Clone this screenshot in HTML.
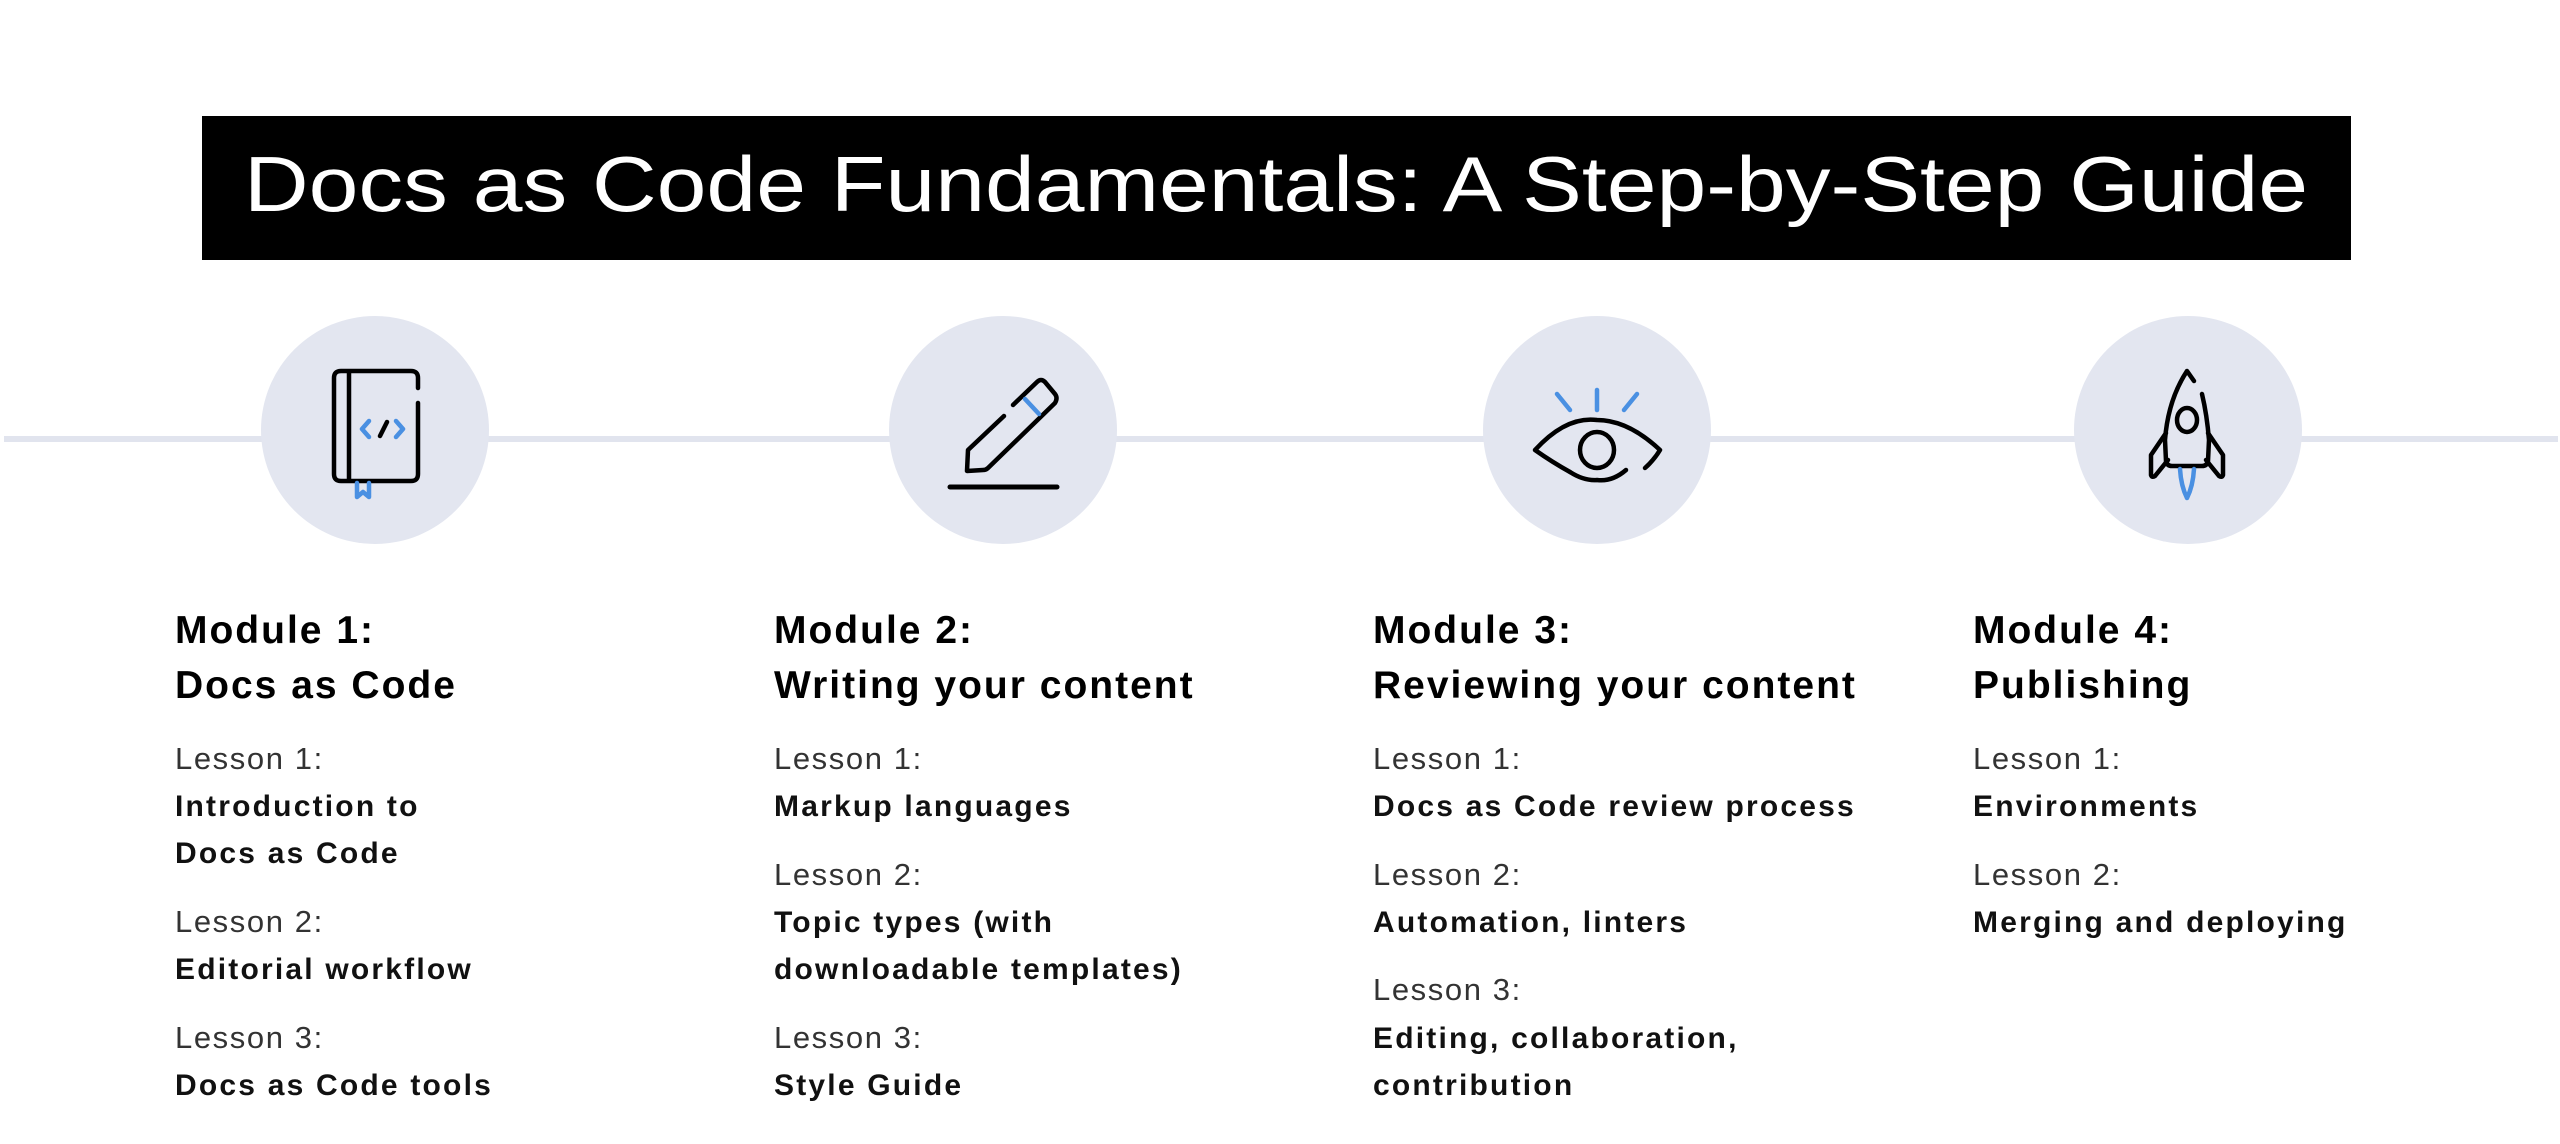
<!DOCTYPE html>
<html><head><meta charset="utf-8"><style>
html,body{margin:0;padding:0;background:#fff;}
svg{display:block;}
.h{font-family:"Liberation Sans",sans-serif;font-weight:bold;font-size:39px;fill:#000;letter-spacing:2px;}
.l{font-family:"Liberation Sans",sans-serif;font-size:31px;fill:#333;letter-spacing:1.6px;}
.b{font-family:"Liberation Sans",sans-serif;font-weight:bold;font-size:30px;fill:#111;letter-spacing:2.2px;}
</style></head><body>
<svg width="2560" height="1144" viewBox="0 0 2560 1144" xmlns="http://www.w3.org/2000/svg">
<rect width="2560" height="1144" fill="#fff"/>
<rect x="202" y="116" width="2149" height="144" fill="#000"/>
<text x="1276" y="211" text-anchor="middle" font-family="Liberation Sans, sans-serif" font-size="78" fill="#fff" textLength="2064" lengthAdjust="spacingAndGlyphs">Docs as Code Fundamentals: A Step-by-Step Guide</text>
<rect x="4" y="436" width="2554" height="6" fill="#e1e4ee"/>
<g fill="#e3e6f0">
<circle cx="375" cy="430" r="114"/>
<circle cx="1003" cy="430" r="114"/>
<circle cx="1597" cy="430" r="114"/>
<circle cx="2188" cy="430" r="114"/>
</g>
<g fill="none" stroke-linecap="round" stroke-linejoin="round" stroke-width="4.5">
<!-- book -->
<path d="M418 388 V378 Q418 371 411 371 H341 Q334 371 334 378 V474 Q334 481 341 481 H411 Q418 481 418 474 V403" stroke="#000"/>
<line x1="349" y1="372" x2="349" y2="480" stroke="#000"/>
<path d="M357 483 V497 L363 492 L369 497 V483" stroke="#4a90e2"/>
<path d="M369 421 L362 429 L369 437" stroke="#4a90e2"/>
<path d="M396 421 L403 429 L396 437" stroke="#4a90e2"/>
<line x1="387" y1="422" x2="380" y2="436" stroke="#000"/>
<!-- pen -->
<path d="M1013 405 L1037 382 Q1041 378 1045 382 L1055 394 Q1058 398 1055 403 L988 468 Q986 470 983 470 L967 471 L968 450 L1004 416" stroke="#000"/>
<line x1="1025" y1="399" x2="1039" y2="414" stroke="#4a90e2"/>
<line x1="950" y1="487" x2="1057" y2="487" stroke="#000" stroke-width="5"/>
<!-- eye -->
<path d="M1570 472 Q1552 462 1535 450 Q1566 416 1597 420 Q1628 420 1660 450 Q1654 460 1645 468" stroke="#000"/>
<path d="M1626 470 Q1612 482 1597 480 Q1584 481 1570 472" stroke="#000"/>
<ellipse cx="1597" cy="450" rx="17" ry="18" stroke="#000"/>
<line x1="1597" y1="390" x2="1597" y2="410" stroke="#4a90e2"/>
<line x1="1557" y1="394" x2="1570" y2="410" stroke="#4a90e2"/>
<line x1="1637" y1="394" x2="1624" y2="410" stroke="#4a90e2"/>
<!-- rocket -->
<path d="M2194 381 L2187 371 Q2168 400 2165 440 L2166 461 Q2167 466 2172 466 H2202 Q2207 466 2208 461 L2209 440 Q2207 415 2202 394" stroke="#000"/>
<ellipse cx="2187" cy="420" rx="10" ry="12" stroke="#000"/>
<path d="M2166 433 L2151 455 V475 Q2152 478 2155 476 L2168 460" stroke="#000"/>
<path d="M2208 433 L2223 455 V475 Q2222 478 2219 476 L2206 460" stroke="#000"/>
<path d="M2180 469 Q2181 486 2187 498 Q2193 486 2194 469" stroke="#4a90e2"/>
</g>
<!-- Module 1 -->
<text class="h" x="175" y="643">Module 1:</text>
<text class="h" x="175" y="698">Docs as Code</text>
<text class="l" x="175" y="769">Lesson 1:</text>
<text class="b" x="175" y="816">Introduction to</text>
<text class="b" x="175" y="863">Docs as Code</text>
<text class="l" x="175" y="932">Lesson 2:</text>
<text class="b" x="175" y="979">Editorial workflow</text>
<text class="l" x="175" y="1048">Lesson 3:</text>
<text class="b" x="175" y="1095">Docs as Code tools</text>
<!-- Module 2 -->
<text class="h" x="774" y="643">Module 2:</text>
<text class="h" x="774" y="698">Writing your content</text>
<text class="l" x="774" y="769">Lesson 1:</text>
<text class="b" x="774" y="816">Markup languages</text>
<text class="l" x="774" y="885">Lesson 2:</text>
<text class="b" x="774" y="932">Topic types (with</text>
<text class="b" x="774" y="979">downloadable templates)</text>
<text class="l" x="774" y="1048">Lesson 3:</text>
<text class="b" x="774" y="1095">Style Guide</text>
<!-- Module 3 -->
<text class="h" x="1373" y="643">Module 3:</text>
<text class="h" x="1373" y="698">Reviewing your content</text>
<text class="l" x="1373" y="769">Lesson 1:</text>
<text class="b" x="1373" y="816">Docs as Code review process</text>
<text class="l" x="1373" y="885">Lesson 2:</text>
<text class="b" x="1373" y="932">Automation, linters</text>
<text class="l" x="1373" y="1000">Lesson 3:</text>
<text class="b" x="1373" y="1048">Editing, collaboration,</text>
<text class="b" x="1373" y="1095">contribution</text>
<!-- Module 4 -->
<text class="h" x="1973" y="643">Module 4:</text>
<text class="h" x="1973" y="698">Publishing</text>
<text class="l" x="1973" y="769">Lesson 1:</text>
<text class="b" x="1973" y="816">Environments</text>
<text class="l" x="1973" y="885">Lesson 2:</text>
<text class="b" x="1973" y="932">Merging and deploying</text>
</svg>
</body></html>
